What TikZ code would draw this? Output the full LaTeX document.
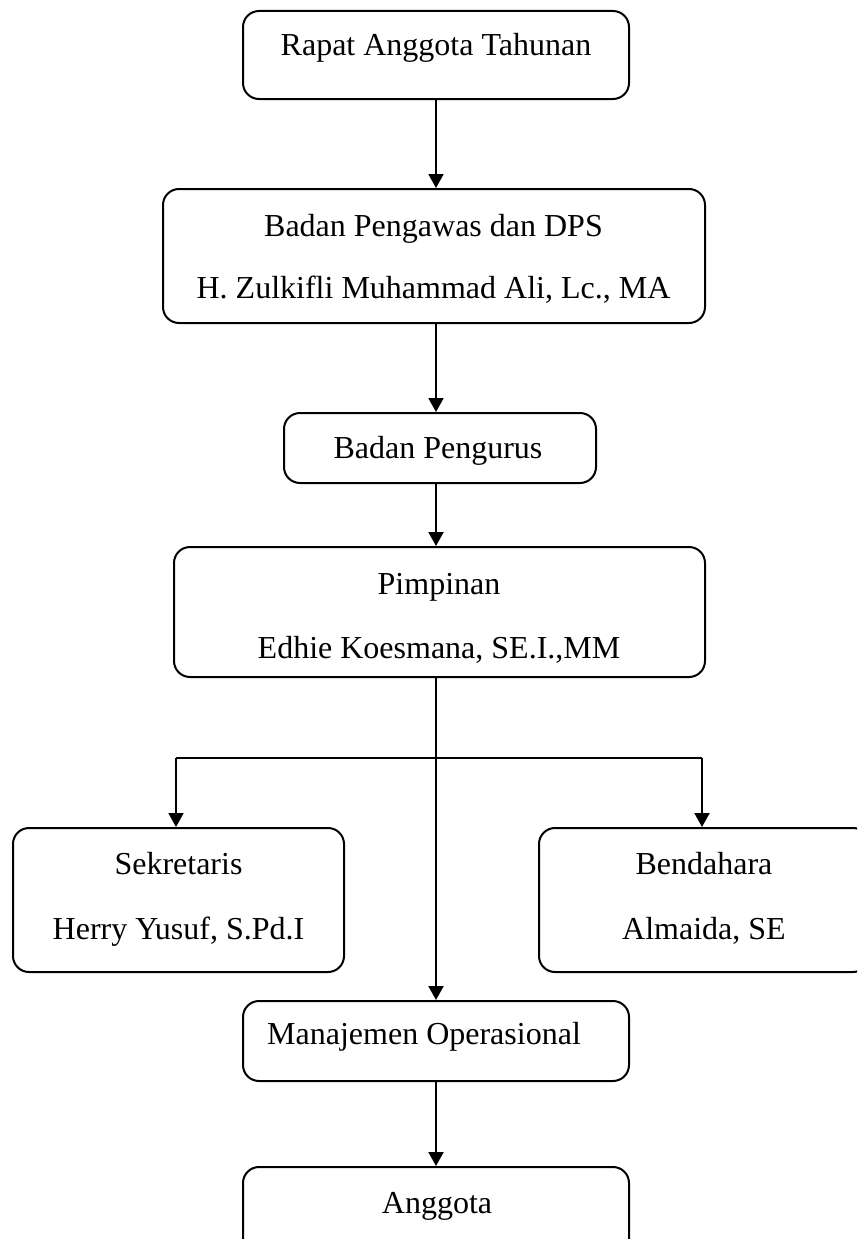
\documentclass[tikz,border=0pt]{standalone}
\usepackage{fontspec}
\setmainfont{Liberation Serif}
\usetikzlibrary{arrows.meta}
\begin{document}
\begin{tikzpicture}[x=1pt,y=-1pt,
  box/.style={draw, line width=2pt, rounded corners=16pt, inner sep=0pt},
  lbl/.style={font=\fontsize{32}{38}\selectfont, inner sep=0pt, anchor=base},
  arr/.style={line width=2pt, -{Triangle[width=15pt,length=14pt]}},
  ln/.style={line width=2pt}]
\useasboundingbox (0,0) rectangle (857,1239);
\clip (0,0) rectangle (857,1239);
% boxes
\node[box, minimum width=386pt, minimum height=88pt]  (b1) at (436,55) {};
\node[box, minimum width=542pt, minimum height=134pt] (b2) at (434,256) {};
\node[box, minimum width=312pt, minimum height=70pt]  (b3) at (440,448) {};
\node[box, minimum width=531pt, minimum height=130pt] (b4) at (439.5,612) {};
\node[box, minimum width=331pt, minimum height=144pt] (b5) at (178.5,900) {};
\node[box, minimum width=330pt, minimum height=144pt] (b6) at (704,900) {};
\node[box, minimum width=386pt, minimum height=80pt]  (b7) at (436,1041) {};
\node[box, minimum width=386pt, minimum height=93pt]  (b8) at (436,1213.5) {};
% texts
\node[lbl] (t1) at (436,56) {Rapat Anggota Tahunan};
\node[lbl] (t2a) at (433.5,236) {Badan Pengawas dan DPS};
\node[lbl] (t2b) at (433.5,298) {H. Zulkifli Muhammad Ali, Lc., MA};
\node[lbl] (t3) at (438,458) {Badan Pengurus};
\node[lbl] (t4a) at (439,594) {Pimpinan};
\node[lbl] (t4b) at (439,658) {Edhie Koesmana, SE.I.,MM};
\node[lbl] (t5a) at (178.5,874) {Sekretaris};
\node[lbl] (t5b) at (178.5,939) {Herry Yusuf, S.Pd.I};
\node[lbl] (t6a) at (704,874) {Bendahara};
\node[lbl] (t6b) at (704,939) {Almaida, SE};
\node[lbl, anchor=base west] (t7) at (267,1044) {Manajemen Operasional};
\node[lbl] (t8) at (437,1213) {Anggota};
% connectors
\coordinate (j) at (436,758);
\coordinate (jl) at (176,758);
\coordinate (jr) at (702,758);
\draw[arr] (b1.south -| j) -- (b2.north -| j);
\draw[arr] (b2.south -| j) -- (b3.north -| j);
\draw[arr] (b3.south -| j) -- (b4.north -| j);
\draw[arr] (b4.south -| j) -- (b7.north -| j);
\draw[ln] (jl) -- (jr);
\draw[arr] (jl) -- (jl |- b5.north);
\draw[arr] (jr) -- (jr |- b6.north);
\draw[arr] (b7.south -| j) -- (b8.north -| j);
\end{tikzpicture}
\end{document}
